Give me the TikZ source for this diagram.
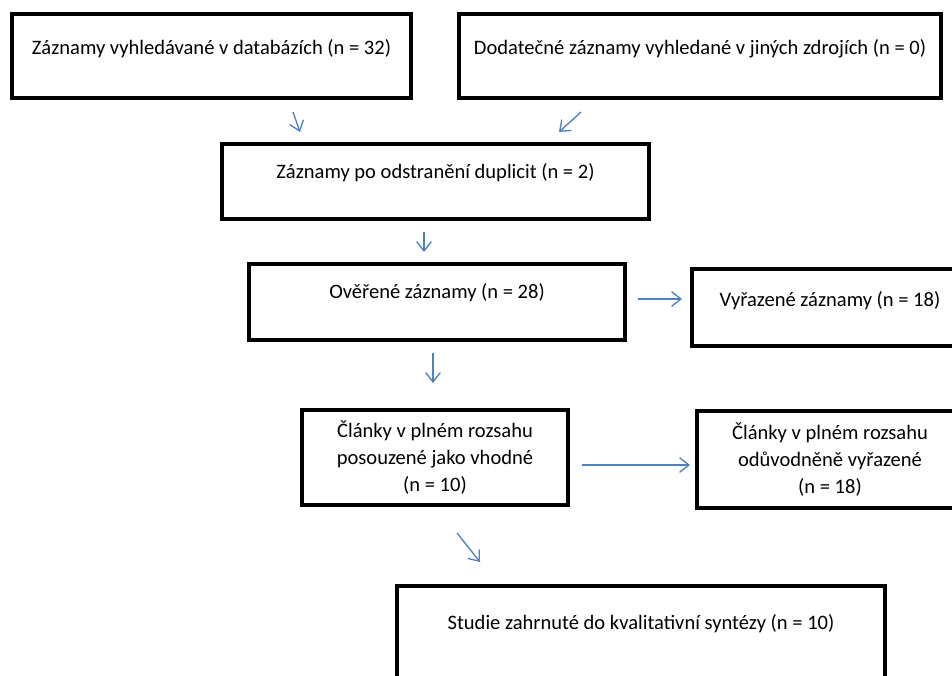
\documentclass[tikz,border=0pt]{standalone}
\usepackage{fontspec}
\setmainfont{Carlito}
\usepackage{tikz}
\usetikzlibrary{arrows.meta}
\definecolor{officeblue}{HTML}{4F81BD}

\begin{document}
\begin{tikzpicture}[
                          x=0.75pt, y=-0.75pt,
                          >={Straight Barb[length=7pt,width=11pt]},
                          recordnode/.style={rectangle, draw, line width=3pt, inner ysep=0pt, anchor=north, font=\fontsize{15.4}{20}\selectfont},
                          recordnode_multi/.style={rectangle, draw, line width=3pt, align=center, font=\fontsize{15.4}{20.3}\selectfont},
                          flowline/.style={->, draw=officeblue, line width=1pt},
                      ]
                      \useasboundingbox (0,0) rectangle (952,675);
                      % Nodes
                      \node[recordnode, minimum width=299.25pt, text height=30pt, text depth=33pt]      (db_search)     at (211.5,12)   {Záznamy vyhledávané v databázích (n = 32)};
                      \node[recordnode, minimum width=361.5pt, text height=30pt, text depth=33pt]       (other_src)     at (700,12)     {Dodatečné záznamy vyhledané v jiných zdrojích (n = 0)};
                      \node[recordnode, minimum width=320.25pt, text height=25.9pt, text depth=30.4pt]  (no_dup)        at (435.5,142)  {Záznamy po odstranění duplicit (n = 2)};
                      \node[recordnode, minimum width=282pt, text height=25.5pt, text depth=31.5pt]     (screened)      at (437,262)    {Ověřené záznamy (n = 28)};
                      \node[recordnode, minimum width=207pt, text height=27.75pt, text depth=30pt]      (excluded)      at (830,267)    {Vyřazené záznamy (n = 18)};
                      \node[recordnode_multi, minimum width=199.5pt, minimum height=71.25pt]            (fulltext_ok)   at (435,457.5)  {Články v plném rozsahu\\posouzené jako vhodné\\(n = 10)};
                      \node[recordnode_multi, minimum width=199.5pt, minimum height=72.75pt]            (fulltext_out)  at (830,459.5)  {Články v plném rozsahu\\odůvodněně vyřazené\\(n = 18)};
                      \node[recordnode, minimum width=366pt, text height=32.25pt, text depth=44.25pt]   (included)      at (641,584)    {Studie zahrnuté do kvalitativní syntézy (n = 10)};

                      %Lines
                      \draw[flowline] ([shift={(81.5,12)}]db_search.south) -- ([shift={(-135.5,-10)}]no_dup.north);
                      \draw[flowline] ([shift={(-119,12)}]other_src.south) -- ([shift={(123.5,-10)}]no_dup.north);
                      \draw[flowline] ([shift={(-11.5,11)}]no_dup.south) -- ([shift={(-13,-10)}]screened.north);
                      \draw[flowline] ([shift={(11,-3)}]screened.east) -- ([shift={(-8,-8.5)}]excluded.west);
                      \draw[flowline] ([shift={(-4,11)}]screened.south) -- ([shift={(-2,-25)}]fulltext_ok.north);
                      \draw[flowline] ([shift={(12,7.5)}]fulltext_ok.east) -- ([shift={(-5,5.5)}]fulltext_out.west);
                      \draw[flowline] ([shift={(22,26)}]fulltext_ok.south) -- ([shift={(-161,-22)}]included.north);
                  \end{tikzpicture}
\end{document}
